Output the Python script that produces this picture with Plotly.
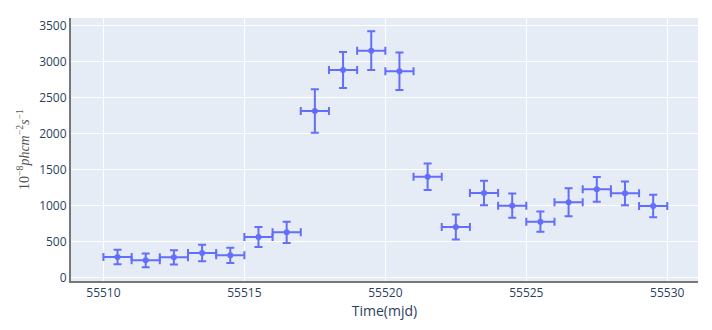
import plotly.graph_objects as go

# light curve points (mjd bin centres, flux, flux error)
time_mjd = [55510.5, 55511.5, 55512.5, 55513.5, 55514.5, 55515.5, 55516.5,
            55517.5, 55518.5, 55519.5, 55520.5, 55521.5, 55522.5, 55523.5,
            55524.5, 55525.5, 55526.5, 55527.5, 55528.5, 55529.5]
time_err = [0.5] * 20
flux = [283, 236, 278, 338, 306, 561, 626, 2314, 2884, 3153, 2866, 1400,
        700, 1173, 997, 774, 1043, 1224, 1169, 992]
flux_err = [102, 97, 100, 115, 107, 139, 148, 303, 250, 269, 262, 185,
            174, 169, 169, 141, 195, 171, 165, 155]

fig = go.Figure()
fig.add_trace(go.Scatter(
    x=time_mjd, y=flux, mode="markers",
    marker=dict(color="#636efa", size=6),
    error_x=dict(type="data", array=time_err, thickness=2, width=4),
    error_y=dict(type="data", array=flux_err, thickness=2, width=4),
))

# page body has an 8px margin, so the figure is shrunk to fit the window
fig.update_layout(
    width=704, height=322,
    margin=dict(l=63, r=14, t=10, b=49),
    template="plotly",
    showlegend=False,
)
fig.update_xaxes(
    title_text="Time(mjd)", range=[55508.85, 55531.09],
    dtick=5, tickformat="d",
    showline=True, linewidth=2, linecolor="#777", zeroline=False,
    title_standoff=4,
)
fig.update_yaxes(
    title_text="10<sup>−8</sup><i>phcm</i><sup>−2</sup><i>s</i><sup>−1</sup>",
    title_font=dict(family="Liberation Serif", size=14, color="#555"),
    range=[-51, 3607], dtick=500,
    showline=True, linewidth=2, linecolor="#777", zeroline=False,
    title_standoff=6,
)

fig.write_html("out.html")
